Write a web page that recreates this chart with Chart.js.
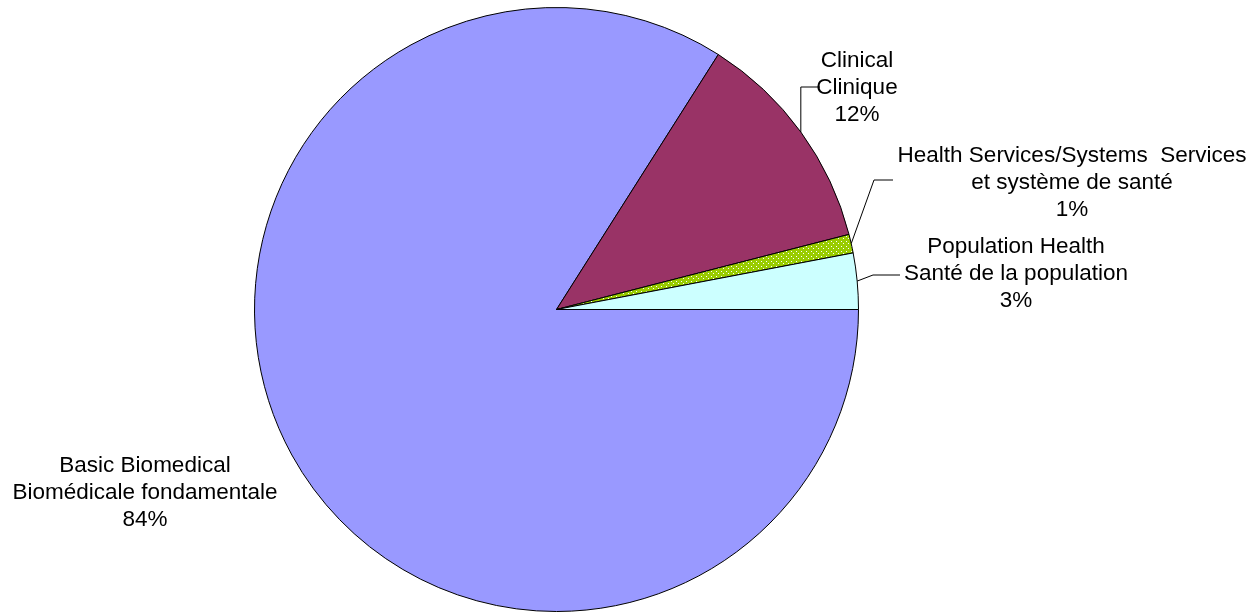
<!DOCTYPE html>
<html>
<head>
<meta charset="utf-8">
<script src="https://cdn.jsdelivr.net/npm/chart.js@4"></script>
<style>
    body { margin: 0; background: #fff; }
    #wrap { width: 1260px; height: 612px; }
</style>
</head>
<body>
<div id="wrap"><canvas id="pie-chart"></canvas></div>
<script>
// -------------------------------------------- data
const categories = [
    ['Basic Biomedical', 'Biomédicale fondamentale'],
    ['Clinical', 'Clinique'],
    ['Health Services/Systems  Services', 'et système de santé'],
    ['Population Health', 'Santé de la population']
];
const shares = [84, 12, 1, 3];
const colours = ['#9999FF', '#993366', null, '#CCFFFF'];

// green with little white dots for the health services slice
function dotPattern() {
    let c = document.createElement('canvas');
    c.width = 5;
    c.height = 5;
    let g = c.getContext('2d');
    g.fillStyle = '#99CC00';
    g.fillRect(0, 0, 5, 5);
    g.fillStyle = '#ffffff';
    g.fillRect(1, 1, 1, 1);
    g.fillRect(3, 3, 1, 1);
    return g.createPattern(c, 'repeat');
}
colours[2] = dotPattern();

// where each label sits (text centre, first line y) and the elbow of its leader line
const labelPlaces = [
    { x: 145, y: 466, line: null },
    { x: 857, y: 61, line: [{ x: null, y: 87 }, { x: 820, y: 87 }] },
    { x: 1072, y: 156, line: [{ x: 874, y: 180 }, { x: 893, y: 180 }] },
    { x: 1016, y: 247, line: [{ x: 873, y: 275 }, { x: 900, y: 275 }] }
];

const pieLabels = {
    id: 'pieLabels',
    afterDraw(chart) {
        const ctx = chart.ctx;
        const meta = chart.getDatasetMeta(0);
        const total = shares.reduce((a, b) => a + b, 0);
        ctx.save();
        ctx.font = '22.5px "Liberation Sans", Arial, sans-serif';
        ctx.fillStyle = '#000';
        ctx.strokeStyle = '#000';
        ctx.lineWidth = 1;
        ctx.textAlign = 'center';
        ctx.textBaseline = 'middle';
        meta.data.forEach((arc, i) => {
            const p = labelPlaces[i];
            const lines = categories[i].concat([Math.round(shares[i] / total * 100) + '%']);
            lines.forEach((t, k) => ctx.fillText(t, p.x, p.y + k * 27));
            if (p.line) {
                const mid = (arc.startAngle + arc.endAngle) / 2;
                const ax = arc.x + Math.cos(mid) * arc.outerRadius;
                const ay = arc.y + Math.sin(mid) * arc.outerRadius;
                ctx.beginPath();
                ctx.moveTo(ax, ay);
                p.line.forEach((pt) => ctx.lineTo(pt.x === null ? ax : pt.x, pt.y));
                ctx.stroke();
            }
        });
        ctx.restore();
    }
};

const pie = document.querySelector('#pie-chart').getContext('2d');
const pieChart = new Chart(pie, {
    type: 'pie',
    data: {
        labels: categories.map((c) => c.join(' ')),
        datasets: [{
            data: shares,
            backgroundColor: colours,
            borderColor: '#000',
            borderWidth: 1,
        }]
    },
    options: {
        responsive: true,
        maintainAspectRatio: false,
        animation: false,
        rotation: 90,
        layout: {
            padding: { left: 0, right: 147, top: 7, bottom: 0 }
        },
        plugins: {
            legend: { display: false },
            tooltip: { enabled: false }
        }
    },
    plugins: [pieLabels]
});
</script>
</body>
</html>
